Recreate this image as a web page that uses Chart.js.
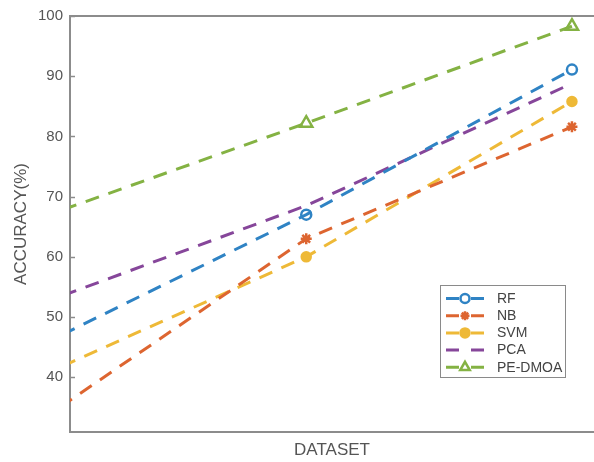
<!DOCTYPE html>
<html>
<head>
<meta charset="utf-8">
<script src="https://cdn.jsdelivr.net/npm/chart.js@4/dist/chart.umd.min.js"></script>
<style>
    html, body { margin: 0; padding: 0; background: #fff; overflow: hidden; }
    #wrap { width: 594px; height: 462px; }
</style>
</head>
<body>
<div id="wrap"><canvas id="accChart" width="594" height="462"></canvas></div>
<script>
// positions of the three runs on the x axis (the first sits left of the visible axis)
const datasetPos = [1, 2, 3];
const yTicks = [40, 50, 60, 70, 80, 90, 100];

// accuracy (%)
const rfAcc = [45.3, 67.0, 91.1];
const nbAcc = [32.8, 63.0, 81.6];
const svmAcc = [40.2, 60.0, 85.8];
const pcaAcc = [52.2, 68.5, 88.8];
const peDmoaAcc = [66.5, 82.2, 98.3];

const seriesNames = ['RF', 'NB', 'SVM', 'PCA', 'PE-DMOA'];

const FONT = "'Liberation Sans', Arial, sans-serif";
const AXIS_GRAY = '#8c8c8c';
const TEXT_GRAY = '#555';

const series = [
    { label: 'RF', data: rfAcc, color: '#2f83c4', style: 'circle', radius: 5, fill: 'rgba(0,0,0,0)' },
    { label: 'NB', data: nbAcc, color: '#dd6530', style: 'star', radius: 5.5, fill: 'rgba(0,0,0,0)' },
    { label: 'SVM', data: svmAcc, color: '#eeb937', style: 'circle', radius: 4.5, fill: '#eeb937' },
    { label: 'PCA', data: pcaAcc, color: '#86469a', style: false, radius: 0, fill: 'rgba(0,0,0,0)' },
    { label: 'PE-DMOA', data: peDmoaAcc, color: '#84b243', style: 'triangle', radius: 7, fill: 'rgba(0,0,0,0)' }
];

const datasets = series.map(function(s) {
    return {
        label: s.label,
        data: s.data.map(function(v, i) { return { x: datasetPos[i], y: v }; }),
        borderColor: s.color,
        backgroundColor: s.color,
        borderWidth: 3,
        borderDash: [14, 10],
        tension: 0,
        pointStyle: s.style,
        pointRadius: s.radius,
        pointBorderWidth: 2.5,
        pointBorderColor: s.color,
        pointBackgroundColor: s.fill,
        clip: { left: 0, top: 12, right: 12, bottom: 0 }
    };
});

// top border, inward y ticks and the boxed legend
const frameExtras = {
    id: 'frameExtras',
    beforeDatasetsDraw(chart) {
        const ctx = chart.ctx;
        const area = chart.chartArea;
        const y = chart.scales.y;
        ctx.save();
        ctx.strokeStyle = AXIS_GRAY;
        ctx.lineWidth = 2;
        ctx.beginPath();
        ctx.moveTo(area.left, area.top);
        ctx.lineTo(area.right, area.top);
        ctx.stroke();
        ctx.lineWidth = 1.5;
        yTicks.forEach(function(t) {
            const py = Math.round(y.getPixelForValue(t)) + 0.5;
            ctx.beginPath();
            ctx.moveTo(area.left, py);
            ctx.lineTo(area.left + 5, py);
            ctx.stroke();
        });
        ctx.restore();
    },
    afterDraw(chart) {
        const ctx = chart.ctx;
        const box = { x: 440.5, y: 285.5, w: 125, h: 92 };
        ctx.save();
        ctx.fillStyle = '#fff';
        ctx.fillRect(box.x, box.y, box.w, box.h);
        ctx.strokeStyle = '#8a8a8a';
        ctx.lineWidth = 1;
        ctx.strokeRect(box.x, box.y, box.w, box.h);
        ctx.font = '14px ' + FONT;
        ctx.textBaseline = 'middle';
        series.forEach(function(s, i) {
            const ly = 298.5 + i * 17.2;
            ctx.strokeStyle = s.color;
            ctx.lineWidth = 3;
            ctx.setLineDash([13, 12]);
            ctx.beginPath();
            ctx.moveTo(446, ly);
            ctx.lineTo(484, ly);
            ctx.stroke();
            ctx.setLineDash([]);
            if (s.style) {
                ctx.fillStyle = s.fill;
                ctx.strokeStyle = s.color;
                ctx.lineWidth = 2.5;
                Chart.helpers.drawPoint(ctx, {
                    pointStyle: s.style,
                    radius: s.style === 'triangle' ? 5.5 : 4.5,
                    rotation: 0,
                    borderWidth: 2.5
                }, 465, ly);
            }
            ctx.fillStyle = '#444';
            ctx.fillText(seriesNames[i], 497, ly + 0.5);
        });
        ctx.restore();
    }
};

const config = {
    type: 'line',
    data: { datasets: datasets },
    options: {
        responsive: false,
        devicePixelRatio: 1,
        animation: false,
        layout: { autoPadding: false, padding: { top: 13.5, right: 0, bottom: 0, left: 0 } },
        plugins: {
            legend: { display: false },
            tooltip: { enabled: false }
        },
        scales: {
            x: {
                type: 'linear',
                min: 1.111,
                max: 3.083,
                grid: { display: false, drawTicks: false },
                border: { display: true, color: AXIS_GRAY, width: 2 },
                ticks: { display: false },
                title: {
                    display: true,
                    text: 'DATASET',
                    color: TEXT_GRAY,
                    font: { family: FONT, size: 17 },
                    padding: { top: 0, bottom: 1 }
                },
                afterFit: function(scale) { scale.height = 30; }
            },
            y: {
                type: 'linear',
                min: 30.9,
                max: 100,
                grid: { display: false, drawTicks: false },
                border: { display: true, color: AXIS_GRAY, width: 2 },
                ticks: {
                    color: TEXT_GRAY,
                    padding: 7,
                    font: { family: FONT, size: 15 }
                },
                afterBuildTicks: function(scale) {
                    scale.ticks = yTicks.map(function(v) { return { value: v }; });
                },
                title: {
                    display: true,
                    text: 'ACCURACY(%)',
                    color: TEXT_GRAY,
                    font: { family: FONT, size: 17 },
                    padding: { top: 11, bottom: 0 }
                },
                afterFit: function(scale) { scale.width = 70; }
            }
        }
    },
    plugins: [frameExtras]
};

new Chart(document.getElementById('accChart').getContext('2d'), config);
</script>
</body>
</html>
